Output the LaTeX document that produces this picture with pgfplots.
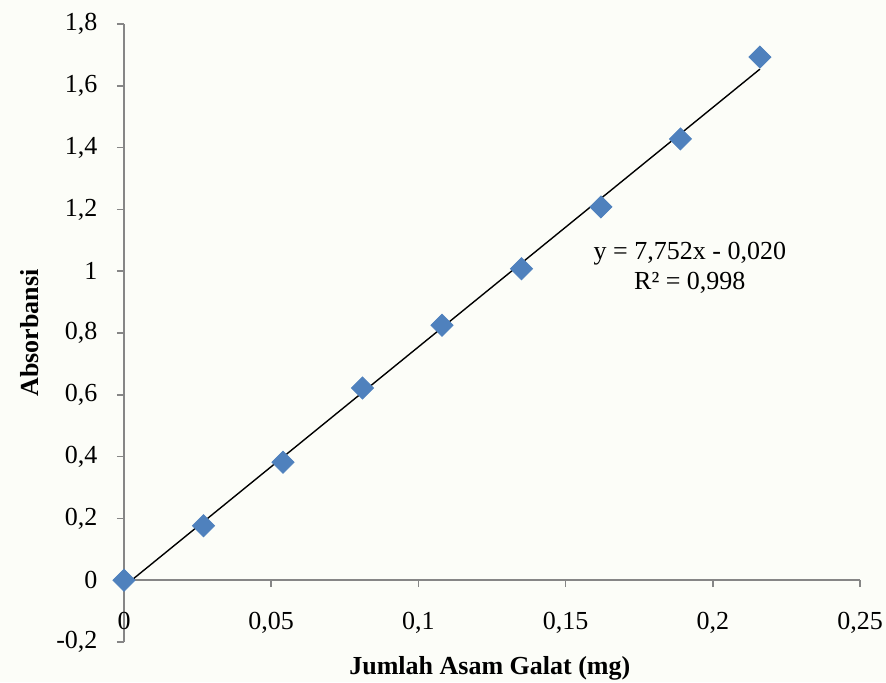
\documentclass[border=0pt]{standalone}
\usepackage{pgfplots}
\pgfplotsset{compat=1.18}
\usepackage{fontspec}
\setmainfont{Liberation Serif}
\definecolor{bg}{HTML}{FCFDF8}
\definecolor{axgray}{HTML}{868686}
\definecolor{ptblue}{HTML}{4F81BD}
\begin{document}
\fontsize{13}{15}\selectfont
\begin{tikzpicture}
\fill[bg] (0,0) rectangle (443pt,341pt);
\begin{axis}[
  at={(62pt,20pt)}, anchor=south west,
  scale only axis, width=368pt, height=309pt,
  xmin=0, xmax=0.25, ymin=-0.2, ymax=1.8,
  axis x line=middle, axis y line=left,
  axis line style={axgray, line width=0.8pt, -},
  xtick={0,0.05,0.1,0.15,0.2,0.25},
  xticklabels={0, 0{,}05, 0{,}1, 0{,}15, 0{,}2, 0{,}25},
  ytick={-0.2,0,0.2,0.4,0.6,0.8,1,1.2,1.4,1.6,1.8},
  yticklabels={-0{,}2, 0, 0{,}2, 0{,}4, 0{,}6, 0{,}8, 1, 1{,}2, 1{,}4, 1{,}6, 1{,}8},
  hide obscured x ticks=false,
  tick align=center,
  major tick length=3.5pt,
  tick style={axgray, line width=0.8pt},
  xtick style={yshift=-1.75pt},
  ytick style={xshift=-1.75pt},
  ticklabel style={font=\fontsize{13}{15}\selectfont, text=black},
  xticklabel style={yshift=-9.5pt},
  yticklabel style={xshift=-7pt},
  clip=false,
]
\addplot[only marks, mark=square*, mark size=3.9pt, mark options={rotate=45, fill=ptblue, draw=ptblue}]
coordinates {(0,0) (0.027,0.176) (0.054,0.382) (0.081,0.622) (0.108,0.825) (0.135,1.008) (0.162,1.208) (0.189,1.428) (0.216,1.693)};
\addplot[black, line width=0.7pt] coordinates {(0,-0.020) (0.216,1.654)};
\node[align=center, font=\fontsize{13}{15}\selectfont] at (axis cs:0.1922,1.01) {y = 7,752x - 0,020\\R² = 0,998};
\node[rotate=90, font=\bfseries\fontsize{13}{15}\selectfont] at (axis description cs:-0.128,0.5) {Absorbansi};
\node[font=\bfseries\fontsize{13}{15}\selectfont] at (axis description cs:0.497,-0.042) {Jumlah Asam Galat (mg)};
\end{axis}
\pgfresetboundingbox
\path (0,0) rectangle (443pt,341pt);
\end{tikzpicture}
\end{document}
